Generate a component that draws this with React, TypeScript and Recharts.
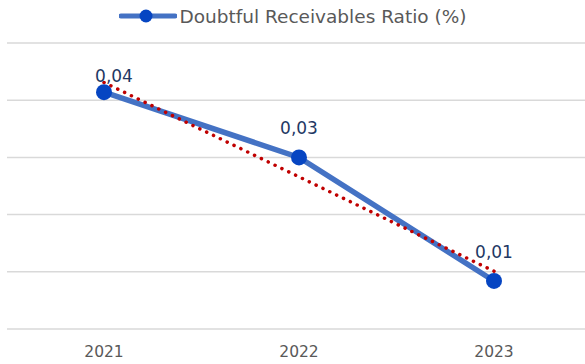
import {
  LineChart,
  Line,
  XAxis,
  YAxis,
  CartesianGrid,
  Legend,
  LabelList,
} from "recharts";

const years = ["2021", "2022", "2023"];
const ratios = [0.0414, 0.03, 0.0084];
const yTicks = [0, 0.01, 0.02, 0.03, 0.04, 0.05];

const SERIES_NAME = "Doubtful Receivables Ratio (%)";
const FONT = "'DejaVu Sans', Verdana, sans-serif";

// least-squares trend over the series, drawn as the dotted red line
const n = ratios.length;
const meanX = (n - 1) / 2;
const meanY = ratios.reduce((a, b) => a + b, 0) / n;
let sxy = 0;
let sxx = 0;
ratios.forEach((v, i) => {
  sxy += (i - meanX) * (v - meanY);
  sxx += (i - meanX) * (i - meanX);
});
const slope = sxy / sxx;

const data = years.map((year, i) => ({
  year,
  ratio: ratios[i],
  trend: meanY + slope * (i - meanX),
}));

const formatLabel = (v: any) => Number(v).toFixed(2).replace(".", ",");

// value label above each point; the first one sits a bit lower and to the right
const ValueLabel = (props: any) => {
  const { x, y, value, index } = props;
  const first = index === 0;
  return (
    <text
      x={x + (first ? 10 : 0)}
      y={y - (first ? 10 : 23)}
      textAnchor="middle"
      fill="#1F3864"
      fontSize={17}
      fontFamily={FONT}
    >
      {formatLabel(value)}
    </text>
  );
};

const LegendContent = () => (
  <div
    style={{
      height: 30,
      display: "flex",
      justifyContent: "center",
      alignItems: "center",
      fontFamily: FONT,
      fontSize: 18.5,
      color: "#595959",
      paddingRight: 12,
    }}
  >
    <svg width={58} height={18} style={{ marginRight: 2 }}>
      <line x1={2} y1={9} x2={56} y2={9} stroke="#4472C4" strokeWidth={5} strokeLinecap="round" />
      <circle cx={27} cy={9} r={6.5} fill="#0645C2" />
    </svg>
    <span>{SERIES_NAME}</span>
  </div>
);

const App = () => {
  return (
    <div
      style={{
        position: "absolute",
        left: 0,
        top: 0,
        width: 585,
        height: 364,
        overflow: "hidden",
        background: "#fff",
      }}
    >
      <LineChart
        width={591}
        height={364}
        data={data}
        margin={{ top: 13, right: 0, bottom: 5, left: 7 }}
      >
        <CartesianGrid vertical={false} stroke="#D9D9D9" strokeWidth={1.5} />
        <XAxis
          dataKey="year"
          axisLine={false}
          tickLine={false}
          height={30}
          tickMargin={11}
          padding={{ left: 97, right: 97 }}
          tick={{ fill: "#595959", fontSize: 15.5, fontFamily: FONT }}
        />
        <YAxis hide domain={[0, 0.05]} ticks={yTicks} />
        <Legend
          verticalAlign="top"
          height={30}
          wrapperStyle={{ top: 1 }}
          content={<LegendContent />}
        />
        <Line
          dataKey="ratio"
          name={SERIES_NAME}
          stroke="#4472C4"
          strokeWidth={5.5}
          dot={{ r: 8, fill: "#0645C2", stroke: "#0645C2", strokeWidth: 0 }}
          activeDot={false}
          isAnimationActive={false}
        >
          <LabelList dataKey="ratio" content={<ValueLabel />} />
        </Line>
        <Line
          dataKey="trend"
          legendType="none"
          stroke="#C00000"
          strokeWidth={3.5}
          strokeDasharray="0.1 7.5"
          strokeLinecap="round"
          dot={false}
          activeDot={false}
          isAnimationActive={false}
        />
      </LineChart>
    </div>
  );
};

export default App;
